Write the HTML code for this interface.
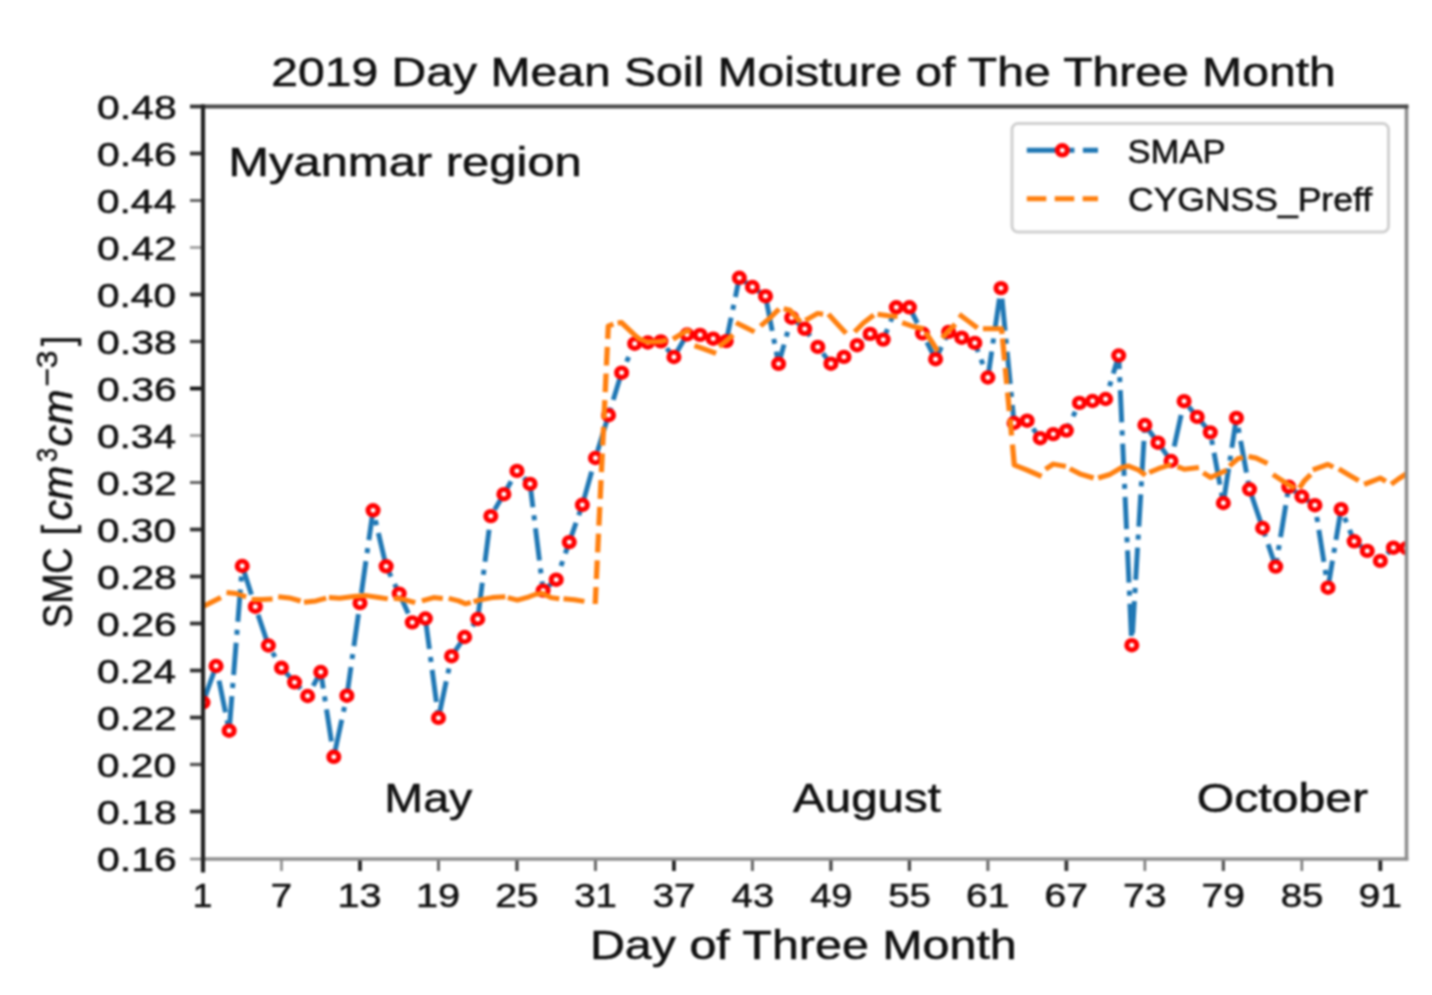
<!DOCTYPE html>
<html><head><meta charset="utf-8"><title>2019 Day Mean Soil Moisture</title>
<style>
html,body{margin:0;padding:0;background:#fff;}
svg{display:block;filter:blur(1.0px);}
text{font-family:"Liberation Sans",sans-serif;fill:#111;stroke:#111;stroke-width:0.55px;}
</style></head><body>
<svg width="1432" height="995" viewBox="0 0 1432 995">
<rect x="0" y="0" width="1432" height="995" fill="#ffffff"/>
<defs><clipPath id="axclip"><rect x="193.33" y="106.50" width="1146.19" height="752.00"/></clipPath></defs>
<g transform="scale(1.0500,1)" clip-path="url(#axclip)" fill="none" stroke-linejoin="round">
<polyline points="193.33,702.50 205.79,666.00 218.25,730.70 230.71,566.00 243.17,606.70 255.63,645.50 268.08,667.80 280.54,682.30 293.00,696.00 305.46,672.00 317.92,756.80 330.38,695.70 342.84,603.10 355.30,510.30 367.75,566.30 380.21,593.60 392.67,622.40 405.13,618.50 417.59,717.90 430.05,656.20 442.51,637.00 454.96,619.00 467.42,516.10 479.88,494.20 492.34,470.90 504.80,483.90 517.26,590.60 529.72,579.70 542.17,542.10 554.63,504.80 567.09,458.00 579.55,415.20 592.01,372.70 604.47,343.70 616.93,342.50 629.38,341.40 641.84,357.00 654.30,334.50 666.76,334.90 679.22,338.70 691.68,341.10 704.14,277.80 716.59,287.00 729.05,296.20 741.51,363.80 753.97,317.70 766.43,328.80 778.89,346.90 791.35,363.70 803.80,356.90 816.26,345.20 828.72,333.90 841.18,339.60 853.64,307.30 866.10,307.30 878.56,333.40 891.01,359.20 903.47,331.90 915.93,337.70 928.39,342.90 940.85,377.50 953.31,288.10 965.77,423.00 978.22,420.70 990.68,438.20 1003.14,434.10 1015.60,430.60 1028.06,402.90 1040.52,401.00 1052.98,399.00 1065.43,355.50 1077.89,645.20 1090.35,425.00 1102.81,442.70 1115.27,461.00 1127.73,401.20 1140.19,416.90 1152.64,432.40 1165.10,503.00 1177.56,417.90 1190.02,489.30 1202.48,528.00 1214.94,566.60 1227.40,486.80 1239.86,496.50 1252.31,505.20 1264.77,587.70 1277.23,509.10 1289.69,541.30 1302.15,550.90 1314.61,560.90 1327.07,547.70 1339.52,548.20" stroke="#1f77b4" stroke-width="4.70" stroke-dasharray="32.31 8.05 5.03 8.05"/>
<g fill="#ffffff" stroke="#ff0000" stroke-width="4.8">
<circle cx="193.33" cy="702.50" r="4.8"/><circle cx="205.79" cy="666.00" r="4.8"/><circle cx="218.25" cy="730.70" r="4.8"/><circle cx="230.71" cy="566.00" r="4.8"/><circle cx="243.17" cy="606.70" r="4.8"/><circle cx="255.63" cy="645.50" r="4.8"/><circle cx="268.08" cy="667.80" r="4.8"/><circle cx="280.54" cy="682.30" r="4.8"/><circle cx="293.00" cy="696.00" r="4.8"/><circle cx="305.46" cy="672.00" r="4.8"/><circle cx="317.92" cy="756.80" r="4.8"/><circle cx="330.38" cy="695.70" r="4.8"/><circle cx="342.84" cy="603.10" r="4.8"/><circle cx="355.30" cy="510.30" r="4.8"/><circle cx="367.75" cy="566.30" r="4.8"/><circle cx="380.21" cy="593.60" r="4.8"/><circle cx="392.67" cy="622.40" r="4.8"/><circle cx="405.13" cy="618.50" r="4.8"/><circle cx="417.59" cy="717.90" r="4.8"/><circle cx="430.05" cy="656.20" r="4.8"/><circle cx="442.51" cy="637.00" r="4.8"/><circle cx="454.96" cy="619.00" r="4.8"/><circle cx="467.42" cy="516.10" r="4.8"/><circle cx="479.88" cy="494.20" r="4.8"/><circle cx="492.34" cy="470.90" r="4.8"/><circle cx="504.80" cy="483.90" r="4.8"/><circle cx="517.26" cy="590.60" r="4.8"/><circle cx="529.72" cy="579.70" r="4.8"/><circle cx="542.17" cy="542.10" r="4.8"/><circle cx="554.63" cy="504.80" r="4.8"/><circle cx="567.09" cy="458.00" r="4.8"/><circle cx="579.55" cy="415.20" r="4.8"/><circle cx="592.01" cy="372.70" r="4.8"/><circle cx="604.47" cy="343.70" r="4.8"/><circle cx="616.93" cy="342.50" r="4.8"/><circle cx="629.38" cy="341.40" r="4.8"/><circle cx="641.84" cy="357.00" r="4.8"/><circle cx="654.30" cy="334.50" r="4.8"/><circle cx="666.76" cy="334.90" r="4.8"/><circle cx="679.22" cy="338.70" r="4.8"/><circle cx="691.68" cy="341.10" r="4.8"/><circle cx="704.14" cy="277.80" r="4.8"/><circle cx="716.59" cy="287.00" r="4.8"/><circle cx="729.05" cy="296.20" r="4.8"/><circle cx="741.51" cy="363.80" r="4.8"/><circle cx="753.97" cy="317.70" r="4.8"/><circle cx="766.43" cy="328.80" r="4.8"/><circle cx="778.89" cy="346.90" r="4.8"/><circle cx="791.35" cy="363.70" r="4.8"/><circle cx="803.80" cy="356.90" r="4.8"/><circle cx="816.26" cy="345.20" r="4.8"/><circle cx="828.72" cy="333.90" r="4.8"/><circle cx="841.18" cy="339.60" r="4.8"/><circle cx="853.64" cy="307.30" r="4.8"/><circle cx="866.10" cy="307.30" r="4.8"/><circle cx="878.56" cy="333.40" r="4.8"/><circle cx="891.01" cy="359.20" r="4.8"/><circle cx="903.47" cy="331.90" r="4.8"/><circle cx="915.93" cy="337.70" r="4.8"/><circle cx="928.39" cy="342.90" r="4.8"/><circle cx="940.85" cy="377.50" r="4.8"/><circle cx="953.31" cy="288.10" r="4.8"/><circle cx="965.77" cy="423.00" r="4.8"/><circle cx="978.22" cy="420.70" r="4.8"/><circle cx="990.68" cy="438.20" r="4.8"/><circle cx="1003.14" cy="434.10" r="4.8"/><circle cx="1015.60" cy="430.60" r="4.8"/><circle cx="1028.06" cy="402.90" r="4.8"/><circle cx="1040.52" cy="401.00" r="4.8"/><circle cx="1052.98" cy="399.00" r="4.8"/><circle cx="1065.43" cy="355.50" r="4.8"/><circle cx="1077.89" cy="645.20" r="4.8"/><circle cx="1090.35" cy="425.00" r="4.8"/><circle cx="1102.81" cy="442.70" r="4.8"/><circle cx="1115.27" cy="461.00" r="4.8"/><circle cx="1127.73" cy="401.20" r="4.8"/><circle cx="1140.19" cy="416.90" r="4.8"/><circle cx="1152.64" cy="432.40" r="4.8"/><circle cx="1165.10" cy="503.00" r="4.8"/><circle cx="1177.56" cy="417.90" r="4.8"/><circle cx="1190.02" cy="489.30" r="4.8"/><circle cx="1202.48" cy="528.00" r="4.8"/><circle cx="1214.94" cy="566.60" r="4.8"/><circle cx="1227.40" cy="486.80" r="4.8"/><circle cx="1239.86" cy="496.50" r="4.8"/><circle cx="1252.31" cy="505.20" r="4.8"/><circle cx="1264.77" cy="587.70" r="4.8"/><circle cx="1277.23" cy="509.10" r="4.8"/><circle cx="1289.69" cy="541.30" r="4.8"/><circle cx="1302.15" cy="550.90" r="4.8"/><circle cx="1314.61" cy="560.90" r="4.8"/><circle cx="1327.07" cy="547.70" r="4.8"/><circle cx="1339.52" cy="548.20" r="4.8"/>
</g>
<g stroke="#ff7f0e" stroke-width="5.00" stroke-linejoin="round">
<polyline points="193.81,606.20 210.38,597.50"/><polyline points="215.71,592.60 224.76,593.50 234.38,596.80"/><polyline points="239.71,599.60 249.52,599.40 259.62,598.90"/><polyline points="264.95,596.80 275.62,597.90 286.29,601.00"/><polyline points="289.52,602.30 300.86,600.90 310.67,598.20"/><polyline points="313.24,597.60 323.52,598.20 336.76,596.50 348.76,595.60 360.76,597.50 369.33,598.90"/><polyline points="375.05,598.20 384.19,599.30 395.43,602.60"/><polyline points="401.81,600.90 412.95,597.60 421.71,598.40"/><polyline points="427.33,598.40 436.86,600.90 443.24,603.80 448.38,602.40"/><polyline points="451.05,601.80 456.00,600.10 468.86,597.60 481.33,596.80"/><polyline points="483.62,597.60 492.76,600.10 503.90,596.80 510.29,594.20 516.67,593.60 524.67,597.60 532.67,598.80"/><polyline points="536.67,598.80 547.05,599.80 556.57,601.40"/><polyline points="566.85,604.00 567.62,587.00"/><polyline points="567.98,579.00 568.82,560.30"/><polyline points="569.18,552.30 570.02,533.60"/><polyline points="570.38,525.60 571.22,506.90"/><polyline points="571.58,498.90 572.42,480.20"/><polyline points="572.78,472.20 573.62,453.50"/><polyline points="573.98,445.50 574.82,426.80"/><polyline points="575.18,418.80 576.02,400.10"/><polyline points="576.38,392.10 577.21,373.50"/><polyline points="577.57,365.50 578.41,346.80"/><polyline points="578.77,338.80 579.33,326.00 584.19,324.20"/><polyline points="588.19,323.00 591.90,322.60 603.90,334.50 608.76,338.80 616.38,342.00 628.95,341.40 635.14,340.30"/><polyline points="640.95,339.20 654.10,330.60 657.81,331.90"/><polyline points="661.43,345.70 670.29,348.80 682.00,353.40"/><polyline points="684.86,346.50 691.43,341.10 698.10,334.90"/><polyline points="700.95,322.60 709.81,327.30 718.57,331.90"/><polyline points="724.38,326.00 733.24,318.00 742.00,309.10"/><polyline points="746.38,308.80 752.38,310.30 762.38,322.00"/><polyline points="767.05,320.30 778.76,313.40 783.90,314.20"/><polyline points="788.95,314.20 796.29,322.60 805.81,333.40"/><polyline points="813.90,331.90 822.67,322.60 832.19,315.00"/><polyline points="835.81,314.20 846.10,315.70 854.86,316.50"/><polyline points="859.24,322.60 869.52,326.50 879.71,328.80"/><polyline points="881.52,332.20 887.05,341.10 892.95,351.10"/><polyline points="897.33,338.00 903.14,331.10 909.81,324.20"/><polyline points="913.43,314.20 922.19,321.10 930.95,328.00"/><polyline points="936.10,328.70 953.90,328.70 954.38,334.00"/><polyline points="954.78,338.50 956.74,360.50"/><polyline points="957.41,368.00 958.84,384.00"/><polyline points="959.60,392.50 961.25,411.00"/><polyline points="961.96,419.00 963.43,435.50"/><polyline points="964.24,444.50 966.00,465.00 977.71,469.90 992.00,476.40"/><polyline points="995.71,469.20 1003.05,464.10 1015.14,466.40"/><polyline points="1018.86,468.60 1028.38,473.80 1041.52,478.00"/><polyline points="1045.90,478.00 1056.95,474.50 1068.00,467.60 1074.76,466.00 1084.86,470.30 1090.95,475.40"/><polyline points="1094.48,472.50 1103.14,468.70 1115.24,464.50"/><polyline points="1121.43,466.60 1127.90,469.20 1141.81,467.40"/><polyline points="1145.90,472.70 1152.86,477.40 1168.19,470.30"/><polyline points="1170.95,466.00 1179.05,458.70 1183.81,457.30"/><polyline points="1189.05,456.50 1196.19,458.00 1207.14,463.50"/><polyline points="1212.29,474.50 1227.05,484.60 1233.14,488.20"/><polyline points="1237.62,488.00 1242.29,480.70 1248.29,474.50"/><polyline points="1250.29,469.90 1264.67,464.40 1269.81,467.10"/><polyline points="1275.05,468.90 1285.33,475.30 1294.00,480.70"/><polyline points="1299.14,484.30 1306.00,481.60 1314.67,478.00 1319.81,481.30"/><polyline points="1324.95,484.30 1331.90,478.90 1340.00,473.40"/>
</g>
</g>
<g stroke-width="3.2" fill="none">
<line x1="190" y1="859.00" x2="203.00" y2="859.00" stroke="#8e8e8e" stroke-width="2.6"/><line x1="190" y1="811.50" x2="203.00" y2="811.50" stroke="#333" stroke-width="3.8"/><line x1="190" y1="764.50" x2="203.00" y2="764.50" stroke="#555" stroke-width="3.3"/><line x1="190" y1="717.50" x2="203.00" y2="717.50" stroke="#333" stroke-width="3.8"/><line x1="190" y1="670.50" x2="203.00" y2="670.50" stroke="#333" stroke-width="3.8"/><line x1="190" y1="623.50" x2="203.00" y2="623.50" stroke="#333" stroke-width="3.8"/><line x1="190" y1="576.50" x2="203.00" y2="576.50" stroke="#333" stroke-width="3.8"/><line x1="190" y1="529.50" x2="203.00" y2="529.50" stroke="#333" stroke-width="3.8"/><line x1="190" y1="482.50" x2="203.00" y2="482.50" stroke="#666" stroke-width="3.0"/><line x1="190" y1="435.50" x2="203.00" y2="435.50" stroke="#999" stroke-width="2.6"/><line x1="190" y1="388.50" x2="203.00" y2="388.50" stroke="#111" stroke-width="3.8"/><line x1="190" y1="341.50" x2="203.00" y2="341.50" stroke="#444" stroke-width="3.3"/><line x1="190" y1="294.50" x2="203.00" y2="294.50" stroke="#333" stroke-width="3.8"/><line x1="190" y1="247.50" x2="203.00" y2="247.50" stroke="#999" stroke-width="2.6"/><line x1="190" y1="200.50" x2="203.00" y2="200.50" stroke="#666" stroke-width="3.0"/><line x1="190" y1="153.50" x2="203.00" y2="153.50" stroke="#333" stroke-width="3.8"/><line x1="190" y1="106.50" x2="203.00" y2="106.50" stroke="#333" stroke-width="3.8"/>
<line x1="203.00" y1="858.50" x2="203.00" y2="871" stroke="#222" stroke-width="3.8"/><line x1="281.49" y1="858.50" x2="281.49" y2="871" stroke="#8a8a8a" stroke-width="2.6"/><line x1="359.98" y1="858.50" x2="359.98" y2="871" stroke="#222" stroke-width="3.8"/><line x1="438.47" y1="858.50" x2="438.47" y2="871" stroke="#666" stroke-width="3.0"/><line x1="516.96" y1="858.50" x2="516.96" y2="871" stroke="#444" stroke-width="3.3"/><line x1="595.45" y1="858.50" x2="595.45" y2="871" stroke="#666" stroke-width="3.0"/><line x1="673.93" y1="858.50" x2="673.93" y2="871" stroke="#222" stroke-width="3.8"/><line x1="752.42" y1="858.50" x2="752.42" y2="871" stroke="#666" stroke-width="3.0"/><line x1="830.91" y1="858.50" x2="830.91" y2="871" stroke="#444" stroke-width="3.3"/><line x1="909.40" y1="858.50" x2="909.40" y2="871" stroke="#444" stroke-width="3.3"/><line x1="987.89" y1="858.50" x2="987.89" y2="871" stroke="#666" stroke-width="3.0"/><line x1="1066.38" y1="858.50" x2="1066.38" y2="871" stroke="#333" stroke-width="3.8"/><line x1="1144.87" y1="858.50" x2="1144.87" y2="871" stroke="#777" stroke-width="2.6"/><line x1="1223.36" y1="858.50" x2="1223.36" y2="871" stroke="#555" stroke-width="3.3"/><line x1="1301.85" y1="858.50" x2="1301.85" y2="871" stroke="#777" stroke-width="2.6"/><line x1="1380.34" y1="858.50" x2="1380.34" y2="871" stroke="#222" stroke-width="3.8"/>
</g>
<g fill="none" stroke-width="3.6" stroke-linecap="square">
<line x1="203.00" y1="859.00" x2="1406.50" y2="859.00" stroke="#8e8e8e"/>
<line x1="1406.50" y1="106.50" x2="1406.50" y2="858.50" stroke="#8e8e8e"/>
<line x1="203.00" y1="106.50" x2="1406.50" y2="106.50" stroke="#484848" stroke-width="3.8"/>
<line x1="203.00" y1="106.50" x2="203.00" y2="870.50" stroke="#222222" stroke-width="4.2"/>
</g>
<rect x="1012" y="123.5" width="376.5" height="108.5" rx="6" ry="6" fill="#ffffff" fill-opacity="0.8" stroke="#d0d0d0" stroke-width="3"/>
<g transform="scale(1.0500,1)" fill="none">
<line x1="977.90" y1="150.3" x2="1045.71" y2="150.3" stroke="#1f77b4" stroke-width="5.00" stroke-dasharray="32.31 8.05 5.03 8.05"/>
<circle cx="1011.71" cy="150.3" r="4.8" fill="#ffffff" stroke="#ff0000" stroke-width="4.8"/>
<line x1="977.90" y1="198.8" x2="1045.71" y2="198.8" stroke="#ff7f0e" stroke-width="5.00" stroke-dasharray="18.6 8.0"/>
</g>
<text transform="translate(271.25,86.20) scale(1.1643,1)" font-size="41.3">2019 Day Mean Soil Moisture of The Three Month</text>
<text transform="translate(589.92,958.50) scale(1.1721,1)" font-size="41.3">Day of Three Month</text>
<text transform="translate(228.17,176.30) scale(1.1856,1)" font-size="41.3">Myanmar region</text>
<text transform="translate(384.36,812.30) scale(1.1271,1)" font-size="41.3">May</text>
<text transform="translate(793.00,812.30) scale(1.1513,1)" font-size="41.3">August</text>
<text transform="translate(1196.74,812.00) scale(1.1660,1)" font-size="41.3">October</text>
<text transform="translate(1127.52,162.50) scale(1.0185,1)" font-size="34.0">SMAP</text>
<text transform="translate(1128.04,210.60) scale(1.0443,1)" font-size="34.0">CYGNSS_Preff</text>
<text transform="translate(97.02,871.00) scale(1.2035,1)" font-size="34.0">0.16</text>
<text transform="translate(97.02,824.00) scale(1.2035,1)" font-size="34.0">0.18</text>
<text transform="translate(97.03,777.00) scale(1.1935,1)" font-size="34.0">0.20</text>
<text transform="translate(97.02,730.00) scale(1.2035,1)" font-size="34.0">0.22</text>
<text transform="translate(97.03,683.00) scale(1.1935,1)" font-size="34.0">0.24</text>
<text transform="translate(97.02,636.00) scale(1.2035,1)" font-size="34.0">0.26</text>
<text transform="translate(97.02,589.00) scale(1.2035,1)" font-size="34.0">0.28</text>
<text transform="translate(97.03,542.00) scale(1.1935,1)" font-size="34.0">0.30</text>
<text transform="translate(97.02,495.00) scale(1.2035,1)" font-size="34.0">0.32</text>
<text transform="translate(97.03,448.00) scale(1.1935,1)" font-size="34.0">0.34</text>
<text transform="translate(97.02,401.00) scale(1.2035,1)" font-size="34.0">0.36</text>
<text transform="translate(97.02,354.00) scale(1.2035,1)" font-size="34.0">0.38</text>
<text transform="translate(97.03,307.00) scale(1.1935,1)" font-size="34.0">0.40</text>
<text transform="translate(97.02,260.00) scale(1.2035,1)" font-size="34.0">0.42</text>
<text transform="translate(97.03,213.00) scale(1.1935,1)" font-size="34.0">0.44</text>
<text transform="translate(97.02,166.00) scale(1.2035,1)" font-size="34.0">0.46</text>
<text transform="translate(97.02,119.00) scale(1.2035,1)" font-size="34.0">0.48</text>
<text transform="translate(192.79,906.80) scale(1.0385,1)" font-size="34.0">1</text>
<text transform="translate(270.69,906.80) scale(1.1294,1)" font-size="34.0">7</text>
<text transform="translate(337.50,906.80) scale(1.1657,1)" font-size="34.0">13</text>
<text transform="translate(415.99,906.80) scale(1.1657,1)" font-size="34.0">19</text>
<text transform="translate(495.13,906.80) scale(1.1479,1)" font-size="34.0">25</text>
<text transform="translate(574.24,906.80) scale(1.1306,1)" font-size="34.0">31</text>
<text transform="translate(652.73,906.80) scale(1.1306,1)" font-size="34.0">37</text>
<text transform="translate(731.83,906.80) scale(1.1139,1)" font-size="34.0">43</text>
<text transform="translate(810.32,906.80) scale(1.1139,1)" font-size="34.0">49</text>
<text transform="translate(888.20,906.80) scale(1.1306,1)" font-size="34.0">55</text>
<text transform="translate(966.06,906.80) scale(1.1479,1)" font-size="34.0">61</text>
<text transform="translate(1044.55,906.80) scale(1.1479,1)" font-size="34.0">67</text>
<text transform="translate(1123.04,906.80) scale(1.1479,1)" font-size="34.0">73</text>
<text transform="translate(1201.53,906.80) scale(1.1479,1)" font-size="34.0">79</text>
<text transform="translate(1280.65,906.80) scale(1.1306,1)" font-size="34.0">85</text>
<text transform="translate(1358.51,906.80) scale(1.1479,1)" font-size="34.0">91</text>
<text transform="translate(72.00,627.93) rotate(-90) scale(0.8613,1)" font-size="42.0">SMC</text>
<text transform="translate(72.00,535.19) rotate(-90) scale(0.8707,1)" font-size="42.0">[</text>
<text transform="translate(72.00,520.49) rotate(-90) scale(0.9820,1)" font-size="42.0" font-style="italic">cm</text>
<text transform="translate(57.00,462.09) rotate(-90) scale(0.8567,1)" font-size="29.4">3</text>
<text transform="translate(72.00,446.44) rotate(-90) scale(1.0178,1)" font-size="42.0" font-style="italic">cm</text>
<text transform="translate(57.00,386.79) rotate(-90) scale(1.0824,1)" font-size="29.4">−3</text>
<text transform="translate(72.00,346.00) rotate(-90) scale(0.8599,1)" font-size="42.0">]</text>
</svg>
</body></html>
